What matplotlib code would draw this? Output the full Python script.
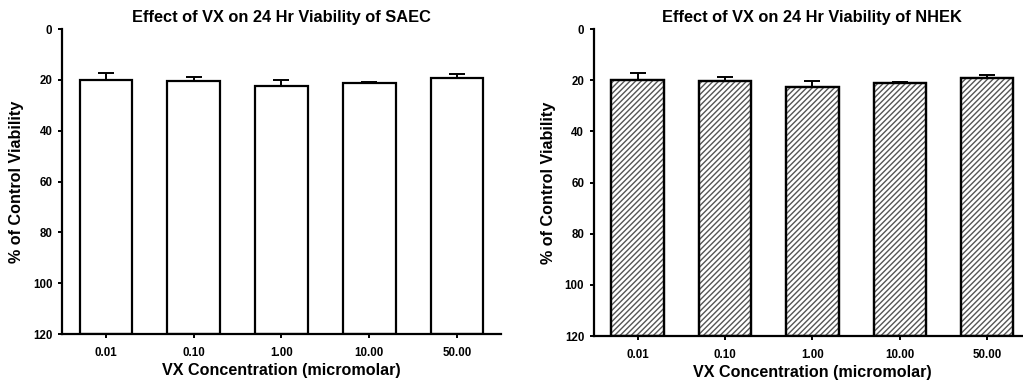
import matplotlib
matplotlib.use("Agg")
import matplotlib.pyplot as plt
import numpy as np

plt.rcParams["font.family"] = ["Liberation Sans", "DejaVu Sans"]
plt.rcParams["font.weight"] = "bold"
plt.rcParams["hatch.linewidth"] = 1.0

concentrations = ["0.01", "0.10", "1.00", "10.00", "50.00"]
saec_mean = [20.0, 20.3, 22.5, 21.2, 19.3]
saec_err = [2.8, 1.4, 2.3, 0.4, 1.5]
nhek_mean = [20.0, 20.3, 22.5, 21.2, 19.3]
nhek_err = [2.8, 1.4, 2.3, 0.4, 1.5]
y_ticks = [0, 20, 40, 60, 80, 100, 120]
y_max = 120


def draw_panel(ax, means, errs, title, hatch=None):
    x = np.arange(len(concentrations))
    means = np.array(means)
    heights = y_max - means
    ax.bar(x, heights, bottom=means, width=0.6, facecolor="white",
           edgecolor="black", linewidth=1.6, zorder=2)
    if hatch:
        # gray hatch lines, black outline on top
        ax.bar(x, heights, bottom=means, width=0.6, facecolor="none",
               edgecolor="#555555", linewidth=0, hatch=hatch, zorder=2)
        ax.bar(x, heights, bottom=means, width=0.6, facecolor="none",
               edgecolor="black", linewidth=1.6, zorder=3)
    ax.errorbar(
        x,
        means,
        yerr=[errs, np.zeros(len(errs))],
        fmt="none",
        ecolor="black",
        elinewidth=1.4,
        capsize=6,
        capthick=1.4,
        zorder=1,
    )
    ax.set_xlim(-0.5, 4.5)
    ax.set_ylim(y_max, 0)
    ax.set_yticks(y_ticks)
    ax.set_xticks(x)
    ax.set_xticklabels(concentrations)
    ax.tick_params(axis="both", labelsize=8.3, width=1.4, length=3, pad=6)
    ax.tick_params(axis="y", pad=4)
    for side in ["top", "right"]:
        ax.spines[side].set_visible(False)
    for side in ["left", "bottom"]:
        ax.spines[side].set_linewidth(1.6)
    ax.set_title(title, fontsize=11.8, fontweight="bold", pad=5)
    ax.set_xlabel("VX Concentration (micromolar)", fontsize=11.6, fontweight="bold", labelpad=3)
    ax.set_ylabel("% of Control Viability", fontsize=11.6, fontweight="bold", labelpad=6)


fig = plt.figure(figsize=(10.23, 3.86), dpi=100)
ax1 = fig.add_axes([0.0606, 0.1347, 0.429, 0.790])
ax2 = fig.add_axes([0.5806, 0.1295, 0.427, 0.795])

draw_panel(ax1, saec_mean, saec_err, "Effect of VX on 24 Hr Viability of SAEC")
draw_panel(ax2, nhek_mean, nhek_err, "Effect of VX on 24 Hr Viability of NHEK", hatch="//////")

fig.savefig("out.png", dpi=100)
